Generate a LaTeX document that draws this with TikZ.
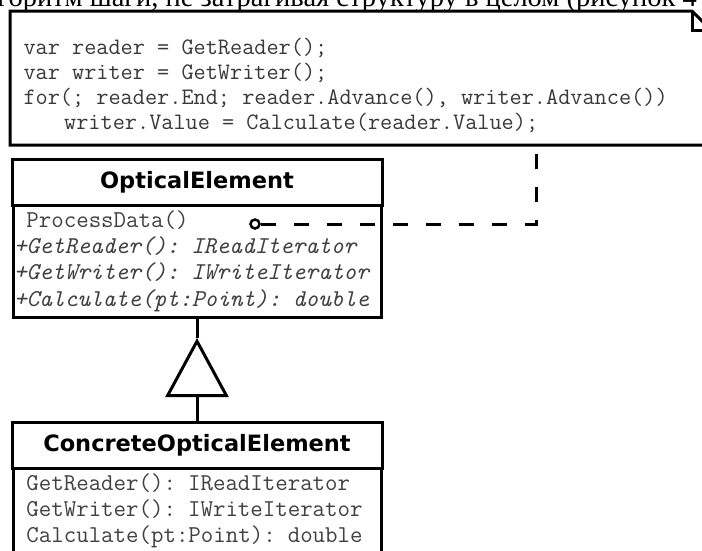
\documentclass[tikz,border=0pt]{standalone}
\usepackage{fontspec}
\setmainfont{Liberation Serif}
\newfontfamily\headfont{DejaVu Sans}
\usetikzlibrary{arrows.meta,positioning}

\begin{document}
\begin{tikzpicture}[x=1pt,y=-1pt,line width=3pt,
		classhead/.style={draw, rectangle, outer sep=0pt, inner sep=0pt, minimum width=370pt, minimum height=46pt, font=\headfont\bfseries\fontsize{22.5}{26}\selectfont},
		classbody/.style={draw, rectangle, outer sep=0pt, inner xsep=1pt, inner ysep=0pt, text width=366pt, align=left, text=black!75, font=\ttfamily\fontsize{24.2}{26.2}\selectfont},
		dep/.style={dash pattern=on 15pt off 18pt},
		hook/.style={circle, draw, fill=white, line width=2.5pt, inner sep=0pt, minimum size=9pt}]
	\useasboundingbox (0,0) rectangle (702,550);
	\clip (0,0) rectangle (702,550);

	% cut line of the page text above
	\node[anchor=base west, inner sep=0pt, font=\fontsize{28.5}{32}\selectfont] (pagetext) at (-4,6) {горитм шаги, не затрагивая структуру в целом (рисунок 4};

	% note with folded corner
	\draw (10,11) -- (692,11) -- (712,31) -- (712,145) -- (10,145) -- cycle;
	\draw (692,11) -- (692,30) -- (712,30);
	\node[anchor=west, inner sep=0pt, align=left, text=black!78, font=\ttfamily\fontsize{23.6}{25}\selectfont] (code) at (22,85) {var reader = GetReader();\\
		var writer = GetWriter();\\
		for(; reader.End; reader.Advance(), writer.Advance())\\
		\hspace*{4ex}writer.Value = Calculate(reader.Value);};
	\coordinate (notefoot) at (536,145);

	\node[classhead] (optical) at (197,182) {OpticalElement};
	\node[classbody, minimum height=112pt, below=0pt of optical] (opticalops) {\phantom{+}ProcessData()\\
		\textit{+GetReader(): IReadIterator}\\
		\textit{+GetWriter(): IWriteIterator}\\
		\textit{+Calculate(pt:Point): double}};

	\node[classhead] (concrete) at (197,445) {ConcreteOpticalElement};
	\node[classbody, minimum height=86pt, below=0pt of concrete] (concreteops) {\phantom{+}GetReader(): IReadIterator\\
		\phantom{+}GetWriter(): IWriteIterator\\
		\phantom{+}Calculate(pt:Point): double};

	% generalization
	\coordinate (tip) at (197,338);
	\draw[-{Triangle[open, length=59pt, width=63pt]}] (concrete) -- (tip);
	\draw (tip) -- (opticalops);

	% note attached to ProcessData
	\node[hook] (hook) at (255,224) {};
	\coordinate (bend) at (536,224);
	\draw[dep] (hook) -- (bend) -- (notefoot);
\end{tikzpicture}
\end{document}
